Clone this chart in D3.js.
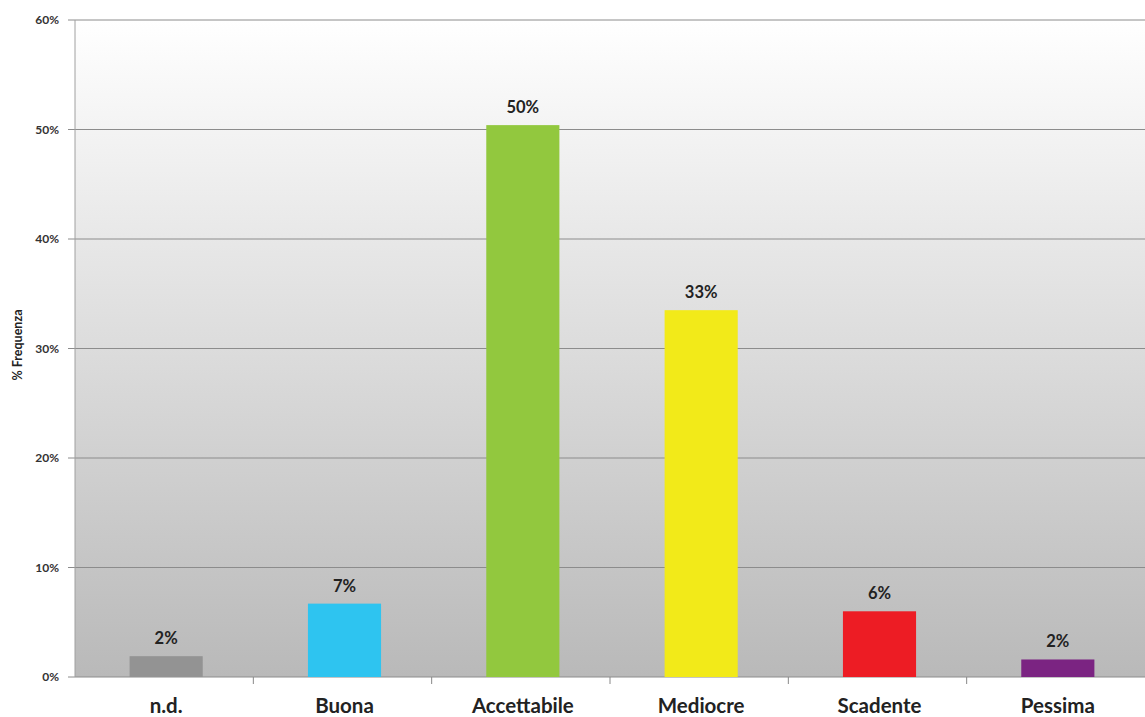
<!DOCTYPE html>
<html><head><meta charset="utf-8">
<script src="https://cdn.jsdelivr.net/npm/d3@7"></script>
<style>body{margin:0;background:#fff}svg{display:block}text{font-family:Lato,"Open Sans",sans-serif;font-weight:bold}</style>
</head><body><svg id="c" width="1145" height="717"></svg>
<script>
const categories = ["n.d.","Buona","Accettabile","Mediocre","Scadente","Pessima"];
const values = [1.9, 6.7, 50.4, 33.5, 6.0, 1.6];
const labels = ["2%","7%","50%","33%","6%","2%"];
const colors = ["#939393","#2ec4f0","#92c83e","#f2ea19","#ed1c24","#7b2482"];
const yTicks = [0,10,20,30,40,50,60];

const svg = d3.select("#c");
const m = {l:75, r:0, t:20, b:40};
const W = 1145, H = 717;
const x = d3.scaleBand().domain(categories).range([m.l+2, W+2]).paddingInner(0.59).paddingOuter(0.295);
const y = d3.scaleLinear().domain([0,60]).range([677, 20]);

const defs = svg.append("defs");
const g = defs.append("linearGradient").attr("id","bg").attr("x1",0).attr("y1",0).attr("x2",0).attr("y2",1);
g.append("stop").attr("offset","0%").attr("stop-color","#ffffff");
g.append("stop").attr("offset","100%").attr("stop-color","#b9b9b9");
svg.append("rect").attr("x",m.l).attr("y",y(60)).attr("width",W-m.l).attr("height",y(0)-y(60)).attr("fill","url(#bg)");

// gridlines
svg.append("g").selectAll("line").data(yTicks).join("line")
  .attr("x1",m.l-7).attr("x2",W).attr("y1",d=>y(d)).attr("y2",d=>y(d))
  .attr("stroke","#8c8c8c").attr("stroke-width",1);
// y axis line
svg.append("line").attr("x1",m.l).attr("x2",m.l).attr("y1",y(60)).attr("y2",y(0)).attr("stroke","#a0a0a0");
// y tick labels
svg.append("g").selectAll("text").data(yTicks).join("text")
  .attr("x",m.l-16).attr("y",d=>y(d)+4).attr("text-anchor","end")
  .attr("font-size",12).attr("fill","#333").text(d=>d+"%");
// y title
svg.append("text").attr("transform","translate(22,345) rotate(-90)").attr("text-anchor","middle")
  .attr("font-size",12.5).attr("fill","#222").text("% Frequenza");

// x ticks
svg.append("g").selectAll("line").data(d3.range(1,categories.length)).join("line")
  .attr("x1",d=>m.l+d*(W-m.l)/categories.length).attr("x2",d=>m.l+d*(W-m.l)/categories.length)
  .attr("y1",y(0)).attr("y2",y(0)+7).attr("stroke","#888");

// bars
svg.append("g").selectAll("rect").data(categories).join("rect")
  .attr("x",d=>x(d)).attr("width",x.bandwidth())
  .attr("y",(d,i)=>y(values[i])).attr("height",(d,i)=>y(0)-y(values[i]))
  .attr("fill",(d,i)=>colors[i]);

// value labels
svg.append("g").selectAll("text").data(categories).join("text")
  .attr("x",d=>x(d)+x.bandwidth()/2).attr("y",(d,i)=>y(values[i])-12)
  .attr("text-anchor","middle").attr("font-size",16.5).attr("fill","#222")
  .text((d,i)=>labels[i]);

// category labels
svg.append("g").selectAll("text").data(categories).join("text")
  .attr("x",d=>x(d)+x.bandwidth()/2).attr("y",713)
  .attr("text-anchor","middle").attr("font-size",20.5).attr("fill","#222").text(d=>d);
</script></body></html>
